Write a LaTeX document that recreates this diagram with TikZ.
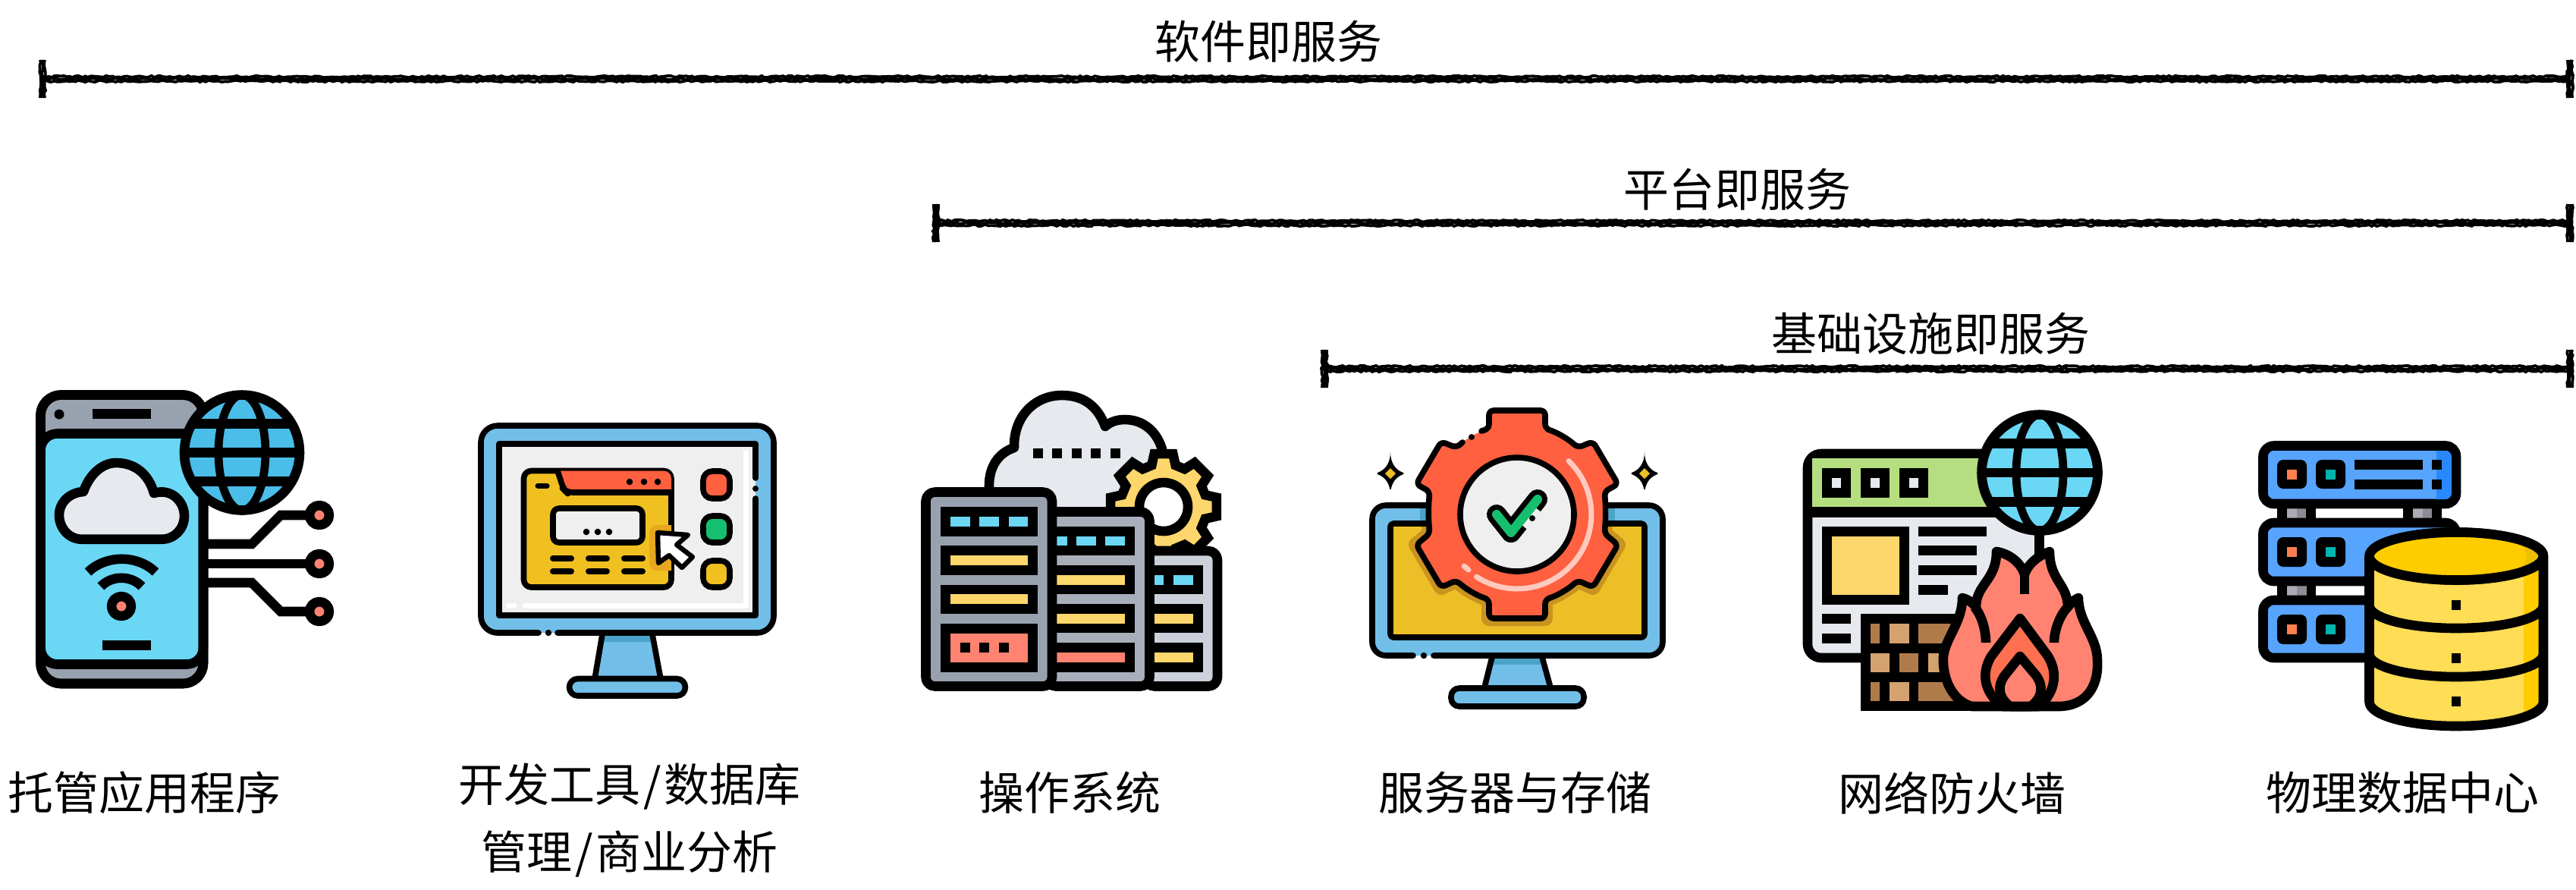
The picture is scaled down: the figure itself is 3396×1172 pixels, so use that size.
\documentclass[tikz,border=0pt]{standalone}
\usepackage{fontspec}
\newfontfamily\cjk{Noto Sans CJK SC}
\usetikzlibrary{calc,decorations.pathmorphing}
\definecolor{cblue}{HTML}{71BFE8}
\definecolor{cdblue}{HTML}{4AA3C9}
\definecolor{ccyan}{HTML}{6AD7F5}
\definecolor{cglobe}{HTML}{4ABDE8}
\definecolor{cgray}{HTML}{98A2AE}
\definecolor{cgray2}{HTML}{A9AFBA}
\definecolor{cgray3}{HTML}{CBD0DA}
\definecolor{ccloud}{HTML}{E6E9EE}
\definecolor{csalmon}{HTML}{FF8370}
\definecolor{cred}{HTML}{FF6040}
\definecolor{cpink}{HTML}{FFC9BF}
\definecolor{cgreen}{HTML}{15BF6F}
\definecolor{cyel}{HTML}{F0C020}
\definecolor{cyel2}{HTML}{FDD66C}
\definecolor{cyel3}{HTML}{EDBF26}
\definecolor{cscreen}{HTML}{EFEFEF}
\definecolor{cshadow}{HTML}{C9931F}
\definecolor{chalo}{HTML}{E5A81E}
\definecolor{cleaf}{HTML}{B5DE80}
\definecolor{cbrick}{HTML}{B07B4A}
\definecolor{cbrick2}{HTML}{D4A26E}
\definecolor{csrv}{HTML}{57A4FF}
\definecolor{csrv2}{HTML}{2A88FF}
\definecolor{cgold}{HTML}{FFCC00}
\definecolor{cgold2}{HTML}{FFDD55}
\definecolor{cgold3}{HTML}{EBC000}
\definecolor{cflame}{HTML}{FF7050}
\definecolor{cpin}{HTML}{ABABB3}
\definecolor{cpin2}{HTML}{8C8C94}
\definecolor{cteal}{HTML}{00B5AD}
\definecolor{corange}{HTML}{FF7F50}
\tikzset{
  sa/.style={line width=3.15pt,line join=round},
  sm/.style={line width=1.9pt,line join=round},
  lbl/.style={font=\cjk\fontsize{15}{21}\selectfont,align=center,inner sep=0pt,text=black},
  noisy/.style={line width=.95pt,decorate,decoration={random steps,segment length=1pt,amplitude=.3pt}},
}
\newcommand{\rc}[5]{\fill[#1] (#2,#3) rectangle (#4,#5);}
\newcommand{\myglobe}[6]{%
  \begin{scope}[shift={(#1,#2)}]
    \filldraw[fill=#6,sa] (0,0) circle [radius=#3];
    \begin{scope}
      \clip (0,0) circle [radius=#3];
      \draw[line width=2.7pt] (0,0) ellipse [x radius=#4,y radius=#3];
      \draw[line width=3.2pt] (-90,-#5) -- (90,-#5) (-90,0) -- (90,0) (-90,#5) -- (90,#5);
    \end{scope}
  \end{scope}}
\newcommand{\mypill}[4]{\draw[line width=#4,line cap=round] (#1,#3) -- (#2,#3);}
\newcommand{\rowpills}[4]{%
  \fill[rounded corners=2pt] (3002,#1) rectangle (3041,#2);
  \fill[rounded corners=2pt] (3053,#1) rectangle (3092,#2);
  \rc{corange}{3015}{#3}{3028}{#4}
  \rc{cteal}{3066}{#3}{3079}{#4}}
\newcommand{\srvrow}[2]{%
  \filldraw[fill=csrv,sa,rounded corners=3.5pt] (2983.5,#1) rectangle (3238,#2);}
\newcommand{\gearpath}{(1963,565) -- (1963,541) -- (2037,541) -- (2037,565) .. controls (2053,570) and (2068,579) .. (2080,590) -- (2100,582) -- (2133,638) -- (2115,648) .. controls (2117,665) and (2117,686) .. (2115,703) -- (2133,718) -- (2100,774) -- (2080,765) .. controls (2068,776) and (2053,785) .. (2037,790) -- (2037,815) -- (1963,815) -- (1963,790) .. controls (1947,785) and (1932,776) .. (1920,765) -- (1900,774) -- (1867,718) -- (1885,703) .. controls (1883,686) and (1883,665) .. (1885,648) -- (1867,638) -- (1900,582) -- (1920,590) .. controls (1932,579) and (1947,570) .. (1963,565) -- cycle}
\newcommand{\dbpath}{(3123.5,733) -- (3123.5,925) arc [start angle=180,end angle=360,x radius=114.75,y radius=-32] -- (3353,733)}
\begin{document}
\begin{tikzpicture}[x=0.25pt,y=-0.25pt]
\useasboundingbox (0,0) rectangle (3396,1172);
\fill[white] (0,0) rectangle (3396,1172);
\pgfmathsetseed{42}

% ---------- bars
\coordinate (a1) at (56,104);   \coordinate (b1) at (3388,104);
\coordinate (a2) at (1234,294); \coordinate (b2) at (3388,294);
\coordinate (a3) at (1746,486); \coordinate (b3) at (3388,486);
\foreach \p/\q in {a1/b1,a2/b2,a3/b3}{
  \foreach \o in {-3,0,3}{
    \draw[noisy] ($(\p)+(0,\o)$) -- ($(\q)+(0,\o)$);
    \draw[noisy] ($(\p)+(\o,-25)$) -- ($(\p)+(\o,25)$);
    \draw[noisy] ($(\q)+(\o,-25)$) -- ($(\q)+(\o,25)$);
  }
}
\node[lbl] (t1) at (1672,55) {软件即服务};
\node[lbl] (t2) at (2290,250) {平台即服务};
\node[lbl] (t3) at (2545,440) {基础设施即服务};

% ---------- labels
\node[lbl] (l1) at (190,1045) {托管应用程序};
\node[lbl] (l2) at (830,1081) {开发工具\kern1pt/\kern1pt数据库\\[1.3pt]管理\kern1pt/\kern1pt商业分析};
\node[lbl] (l3) at (1410,1045) {操作系统};
\node[lbl] (l4) at (1997,1045) {服务器与存储};
\node[lbl] (l5) at (2573,1045) {网络防火墙};
\node[lbl] (l6) at (3167,1045) {物理数据中心};

% ---------- ICON 1: phone
\draw[sa,line join=miter] (274,717) -- (332,717) -- (370,679) -- (421,679);
\draw[sa] (274,743) -- (421,743);
\draw[sa,line join=miter] (274,768) -- (332,768) -- (370,806) -- (421,806);
\foreach \y in {679,743,806}{\filldraw[fill=csalmon,sa] (421,\y) circle [radius=13];}
\filldraw[fill=cgray,sa,rounded corners=6.75pt] (53.5,520.5) rectangle (268,901);
\filldraw[fill=ccyan,sa] (53.5,571.5) -- (268,571.5) [rounded corners=5.5pt] -- (268,875.5) -- (53.5,875.5) -- cycle;
\draw[sa,rounded corners=6.75pt] (53.5,520.5) rectangle (268,901);
\fill (78,546) circle [radius=6.5];
\rc{black}{122}{539}{199}{552}
\rc{black}{135}{844}{199}{857}
\filldraw[fill=ccloud,sa] (108,710.7) .. controls (90,710.7) and (78,695) .. (78,679) .. controls (78,662) and (92,649) .. (110,648) .. controls (118,625) and (135,610) .. (153,610) .. controls (178,610) and (196,625) .. (203,650) .. controls (225,643) and (243,660) .. (243,680) .. controls (243,697) and (230,710.7) .. (213,710.7) -- cycle;
\draw[sa] (116,754) .. controls (140,731) and (181,731) .. (205,754);
\draw[sa] (133,773) .. controls (147,758) and (173,758) .. (187,773);
\filldraw[fill=csalmon,sa] (160,799) circle [radius=13];
\myglobe{319}{596.5}{76}{31}{38}{cglobe}

% ---------- ICON 2: monitor with app
\fill[cblue] (794,838) -- (860,838) -- (871,893) -- (784,893) -- cycle;
\rc{cdblue}{792}{838}{862}{846}
\draw[sm] (794,836) -- (784,895) (860,836) -- (871,895);
\fill[cblue,rounded corners=5.5pt] (634,561) rectangle (1020,834);
\draw[sm,rounded corners=5.5pt,line cap=round] (735,834) -- (1020,834) -- (1020,561) -- (634,561) -- (634,834) -- (710,834);
\fill (723,834) circle [radius=4.2];
\filldraw[fill=cblue,sm,rounded corners=2.8pt] (750.5,894.5) rectangle (903.5,917);
\fill[cscreen] (658,585) rectangle (996,811);
\draw[white,line width=1.75pt,line cap=round,line join=round] (983,596) -- (983,798) -- (692,798);
\draw[white,line width=1.75pt,line cap=round] (670,798) -- (678,798);
\draw[sm,line cap=round] (996,630) -- (996,585) -- (658,585) -- (658,811) -- (996,811) -- (996,657);
\fill (996,644) circle [radius=4];
\filldraw[fill=cyel,sm,rounded corners=2.5pt] (690.5,620.5) rectangle (885,774);
\begin{scope}
  \clip[rounded corners=2.5pt] (690.5,620.5) rectangle (885,774);
  \fill[cred] (737,620.5) -- (885,620.5) -- (885,649) -- (747,649) -- cycle;
  \fill[chalo,rounded corners=2.5pt] (856,692) rectangle (895,752);
\end{scope}
\draw[sm,rounded corners=2pt] (735,620.5) -- (743,645) -- (747,649) -- (885,649);
\foreach \x in {830,849,867}{\fill (\x,635) circle [radius=4.3];}
\mypill{709}{721}{640}{1.75pt}
\filldraw[fill=cscreen,sm,rounded corners=2pt] (729,670) rectangle (847,715);
\foreach \x in {773,788,803}{\fill (\x,701) circle [radius=4.3];}
\foreach \y in {736,753}{\foreach \a/\b in {729/753,776/800,823/847}{\mypill{\a}{\b}{\y}{2pt}}}
\filldraw[fill=white,line width=1.6pt,line join=round] (867,702) -- (907,705) -- (892,718) -- (913,734) -- (899,748) -- (882,732) -- (868,742) -- cycle;
\filldraw[fill=cred,sm,rounded corners=3pt] (927,621) rectangle (962,657);
\filldraw[fill=cgreen,sm,rounded corners=3pt] (927,680) rectangle (962,715);
\filldraw[fill=cyel,sm,rounded corners=3pt] (927,739) rectangle (962,774);

% ---------- ICON 3: cloud servers
\filldraw[fill=ccloud,sa] (1304,700) -- (1304,640) .. controls (1304,615) and (1316,597) .. (1337,590) .. controls (1336,548) and (1365,521) .. (1400,521) .. controls (1428,521) and (1447,535) .. (1457,562) .. controls (1465,555) and (1474,553) .. (1483,553) .. controls (1508,553) and (1527,570) .. (1533,596) -- (1533,700) -- cycle;
\foreach \x in {1362,1387,1413,1438,1464}{\rc{black}{\x}{591}{\x+13}{604}}
\begin{scope}[shift={(1534,668)}]
  \filldraw[fill=cyel2,sa,line join=miter] (-16:57) \foreach \a in {0,45,...,315}{ -- ({\a-16}:57) -- ({\a-10}:71) -- ({\a+10}:71) -- ({\a+16}:57)} -- cycle;
  \filldraw[fill=white,sa] (0,0) circle [radius=32];
\end{scope}
% server 3
\filldraw[fill=cgray3,sa,rounded corners=3pt] (1510,726) -- (1605,726) -- (1605,904.5) -- (1510,904.5) -- cycle;
\foreach \t/\b in {745/783,796/834,847/886}{\rc{black}{1516}{\t}{1586}{\b}}
\rc{ccyan}{1522}{758}{1534}{771}\rc{ccyan}{1547}{758}{1573}{771}
\rc{cyel2}{1522}{809}{1573}{822}\rc{cyel2}{1522}{860}{1573}{873}
% server 2
\filldraw[fill=cgray2,sa,rounded corners=3pt] (1380,674.5) -- (1515.5,674.5) -- (1515.5,904.5) -- (1380,904.5) -- cycle;
\foreach \t/\b in {694/732,745/783,796/834,847/886}{\rc{black}{1385}{\t}{1496}{\b}}
\rc{ccyan}{1393}{707}{1407}{719}\rc{ccyan}{1419}{707}{1445}{719}\rc{ccyan}{1457}{707}{1483}{719}
\rc{cyel2}{1393}{758}{1483}{771}\rc{cyel2}{1393}{809}{1483}{822}\rc{csalmon}{1393}{860}{1483}{873}
% server 1
\filldraw[fill=cgray,sa,rounded corners=3pt] (1220.5,648.5) rectangle (1387,904.5);
\foreach \t/\b in {668/707,719/758,771/809,822/886}{\rc{black}{1240}{\t}{1368}{\b}}
\rc{ccyan}{1253}{681}{1279}{694}\rc{ccyan}{1291}{681}{1317}{694}\rc{ccyan}{1330}{681}{1355}{694}
\rc{cyel2}{1253}{732}{1355}{745}\rc{cyel2}{1253}{783}{1355}{796}\rc{csalmon}{1253}{835}{1355}{873}
\rc{black}{1266}{847}{1279}{860}\rc{black}{1291}{847}{1304}{860}\rc{black}{1317}{847}{1330}{860}

% ---------- ICON 4: monitor with gear
\fill[cblue] (1967,868) -- (2033,868) -- (2044,905) -- (1957,905) -- cycle;
\rc{cdblue}{1965}{868}{2035}{876}
\draw[sm] (1967,866) -- (1957,906) (2033,866) -- (2044,906);
\fill[cblue,rounded corners=4.5pt] (1809,666) rectangle (2192,864);
\draw[sm,rounded corners=4.5pt,line cap=round] (1890,864) -- (2192,864) -- (2192,666) -- (1809,666) -- (1809,864) -- (1863,864);
\fill (1877,864) circle [radius=4.2];
\filldraw[fill=cblue,sm,rounded corners=2.7pt] (1913,907) rectangle (2088,931);
\fill[cyel3] (1833,690) rectangle (2168,840);
\rc{cdblue}{1872}{670}{1880}{686}\rc{cdblue}{2121}{670}{2129}{686}
\begin{scope}
  \clip (1833,690) rectangle (2168,840);
  \filldraw[fill=cshadow,draw=cshadow,line width=5pt,line join=round] \gearpath;
\end{scope}
\draw[sm,rounded corners=1pt] (1833,690) rectangle (2168,840);
\fill[cred,rounded corners=1.5pt] \gearpath;
\draw[sm,rounded corners=1.5pt,line cap=round] (1953,568) -- (1963,565) -- (1963,541) -- (2037,541) -- (2037,565) .. controls (2053,570) and (2068,579) .. (2080,590) -- (2100,582) -- (2133,638) -- (2115,648) .. controls (2117,665) and (2117,686) .. (2115,703) -- (2133,718) -- (2100,774) -- (2080,765) .. controls (2068,776) and (2053,785) .. (2037,790) -- (2037,815) -- (1963,815) -- (1963,790) .. controls (1947,785) and (1932,776) .. (1920,765) -- (1900,774) -- (1867,718) -- (1885,703) .. controls (1883,686) and (1883,665) .. (1885,648) -- (1867,638) -- (1900,582) -- (1920,590) -- (1928,583);
\fill (1940,576) circle [radius=4];
\draw[cpink,line width=1.75pt,line cap=round] (2068,607.5) arc [start angle=-46,end angle=123,radius=98];
\draw[cpink,line width=1.75pt,line cap=round] (1930,746) -- (1936,751);
\filldraw[fill=cscreen,sm] (2000,678) circle [radius=75];
\draw[line width=6.5pt,line cap=round,line join=round] (1973,678) -- (1992,702) -- (2027,658);
\draw[cscreen,line width=1.9pt] (2010,695) -- (2028,672);
\draw[cgreen,line width=3pt,line cap=round,line join=round] (1973,678) -- (1992,702) -- (2027,658);
\fill (2020,683) circle [radius=4];
\foreach \x in {1833,2168}{
  \begin{scope}[shift={(\x,624)}]
    \fill[rounded corners=1pt] (0,-24) .. controls (3,-10) and (9,-4) .. (20,0) .. controls (9,4) and (3,10) .. (0,24) .. controls (-3,10) and (-9,4) .. (-20,0) .. controls (-9,-4) and (-3,-10) .. (0,-24) -- cycle;
    \fill[cyel3] (0,-7) -- (7,0) -- (0,7) -- (-7,0) -- cycle;
  \end{scope}}

% ---------- ICON 5: firewall
\rc{ccloud}{2389}{681}{2682}{861}
\draw[sa,rounded corners=4.5pt] (2688,598) -- (2383,598) -- (2383,867) -- (2470,867);
\fill[cleaf] (2389,604) rectangle (2684,668);
\rc{black}{2377}{668}{2684}{682}
\foreach \x in {2402,2453,2504}{\rc{black}{\x}{617}{\x+38}{656}\rc{ccloud}{\x+13}{630}{\x+25}{643}}
\rc{black}{2402}{694}{2517}{797}\rc{cyel2}{2415}{707}{2504}{784}
\rc{black}{2529}{694}{2619}{707}\rc{black}{2529}{719}{2606}{732}\rc{black}{2529}{745}{2606}{758}\rc{black}{2529}{771}{2568}{784}
\rc{black}{2402}{809}{2440}{822}\rc{black}{2402}{835}{2440}{848}
\rc{black}{2453}{809}{2580}{937}
\rc{black}{2580}{924}{2720}{937}
\rc{cbrick}{2466}{822}{2478}{848}\rc{cbrick2}{2491}{822}{2517}{848}\rc{cbrick}{2529}{822}{2590}{848}
\rc{cbrick2}{2466}{861}{2491}{886}\rc{cbrick}{2504}{861}{2529}{886}\rc{cbrick2}{2542}{861}{2590}{886}
\rc{cbrick}{2466}{899}{2478}{924}\rc{cbrick2}{2491}{899}{2517}{924}\rc{cbrick}{2529}{899}{2590}{924}
\rc{black}{2682}{700}{2695}{745}
\myglobe{2689}{623}{76.5}{31}{38.5}{ccyan}
\filldraw[fill=csalmon,sa] (2600,931) .. controls (2575,925) and (2560,895) .. (2562,865) .. controls (2565,840) and (2587,820) .. (2587,788) .. controls (2595,790) and (2601,795) .. (2605,800) .. controls (2605,770) and (2632,765) .. (2632,727) .. controls (2650,730) and (2664,742) .. (2669,757) .. controls (2674,742) and (2688,732) .. (2702,727) .. controls (2702,765) and (2726,770) .. (2726,800) .. controls (2730,795) and (2735,790) .. (2740,788) .. controls (2740,820) and (2765,840) .. (2765,870) .. controls (2767,905) and (2750,931) .. (2713,931) -- cycle;
\draw[sa] (2618,847) .. controls (2618,830) and (2612,810) .. (2603,800);
\draw[sa] (2708,847) .. controls (2708,830) and (2716,810) .. (2726,800);
\draw[sa] (2669,757) -- (2669,783);
\filldraw[fill=cflame,sa] (2640,931) .. controls (2618,915) and (2610,890) .. (2625,865) -- (2663,815) -- (2700,865) .. controls (2715,890) and (2707,915) .. (2688,931) -- cycle;
\filldraw[fill=csalmon,sa] (2650,931) .. controls (2635,920) and (2632,905) .. (2643,890) -- (2663,865) -- (2684,890) .. controls (2695,905) and (2692,920) .. (2677,931) -- cycle;

% ---------- ICON 6: storage
\foreach \x in {3002,3168}{
  \rc{black}{\x}{670}{\x+51}{683}
  \rc{cpin}{\x+13}{670}{\x+26}{683}\rc{cpin2}{\x+26}{670}{\x+38}{683}
}
\rc{black}{3002}{772}{3053}{785}\rc{cpin}{3015}{772}{3028}{785}\rc{cpin2}{3028}{772}{3041}{785}
\srvrow{587.5}{664}
\begin{scope}
  \clip[rounded corners=2pt] (2990,594) rectangle (3232,658);
  \rc{csrv2}{3212}{590}{3240}{660}
\end{scope}
\rowpills{606}{644}{619}{632}
\rc{black}{3104}{606}{3194}{619}\rc{black}{3104}{632}{3194}{645}
\rc{black}{3206}{606}{3219}{619}\rc{black}{3206}{632}{3219}{645}
\srvrow{689}{766}
\rowpills{708}{747}{721}{734}
\srvrow{791}{867}
\rowpills{810}{849}{823}{836}
% database
\fill[cgold2] \dbpath -- cycle;
\begin{scope}
  \clip \dbpath -- cycle;
  \rc{cgold}{3327}{733}{3360}{965}
\end{scope}
\draw[sa] \dbpath;
\filldraw[fill=cgold3,sa] (3238.25,733) ellipse [x radius=114.75,y radius=31.5];
\begin{scope}
  \clip (3238.25,733) ellipse [x radius=111,y radius=28];
  \fill[cgold] (3218,733) ellipse [x radius=113,y radius=40];
\end{scope}
\draw[sa] (3238.25,733) ellipse [x radius=114.75,y radius=31.5];
\draw[sa] (3123.5,798) arc [start angle=180,end angle=360,x radius=114.75,y radius=-30];
\draw[sa] (3123.5,862) arc [start angle=180,end angle=360,x radius=114.75,y radius=-30];
\rc{black}{3232}{791}{3244}{804}\rc{black}{3232}{861}{3244}{874}\rc{black}{3232}{918}{3244}{931}
\end{tikzpicture}
\end{document}
